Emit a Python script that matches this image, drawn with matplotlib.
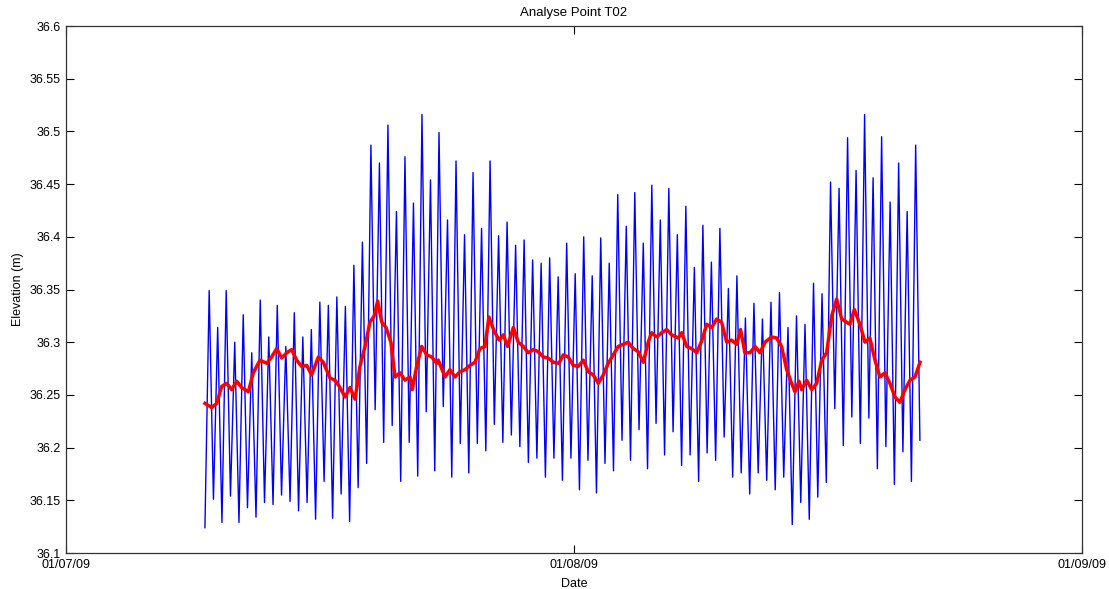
import numpy as np
import pandas as pd
import matplotlib
matplotlib.use("Agg")
from matplotlib import pyplot as plt
import matplotlib.dates as mdates

# Water level at successive high / low waters, starting with a low water
tide_start = "2009-07-09 11:30"
tide_step = "6h14min"
tide_levels = [
    36.124, 36.349, 36.151, 36.314, 36.129, 36.349, 36.154, 36.300, 36.129, 36.326,
    36.143, 36.290, 36.134, 36.340, 36.148, 36.305, 36.146, 36.335, 36.155, 36.296,
    36.149, 36.328, 36.140, 36.305, 36.148, 36.312, 36.132, 36.338,
    36.168, 36.335, 36.133, 36.343, 36.156, 36.334, 36.130, 36.373, 36.162, 36.395,
    36.185, 36.487, 36.236, 36.470, 36.205, 36.506, 36.221, 36.424, 36.168, 36.476,
    36.205, 36.432, 36.173, 36.516, 36.234, 36.454, 36.178, 36.499,
    36.239, 36.416, 36.172, 36.472, 36.204, 36.402, 36.176, 36.461, 36.204, 36.408,
    36.197, 36.472, 36.222, 36.401, 36.205, 36.414, 36.212, 36.392, 36.201, 36.397,
    36.186, 36.378, 36.190, 36.375, 36.172, 36.380, 36.190, 36.362,
    36.169, 36.394, 36.190, 36.365, 36.160, 36.400, 36.188, 36.363, 36.157, 36.399,
    36.185, 36.375, 36.178, 36.440, 36.207, 36.410, 36.188, 36.442, 36.217, 36.394,
    36.180, 36.449, 36.223, 36.416, 36.193, 36.446, 36.215, 36.402,
    36.183, 36.429, 36.193, 36.371, 36.168, 36.411, 36.195, 36.376, 36.188, 36.408,
    36.210, 36.351, 36.172, 36.363, 36.176, 36.323, 36.156, 36.337, 36.176, 36.322,
    36.169, 36.338, 36.160, 36.347, 36.172, 36.314, 36.127, 36.325,
    36.148, 36.317, 36.132, 36.356, 36.153, 36.346, 36.167, 36.452, 36.237, 36.446,
    36.202, 36.494, 36.229, 36.463, 36.204, 36.516, 36.228, 36.456, 36.180, 36.495,
    36.201, 36.433, 36.165, 36.470, 36.196, 36.424, 36.168, 36.487, 36.207,
]

# Filtered (mean) level: days after 1 July 2009 and elevation
mean_days = [
    8.48, 8.89, 9.20, 9.50, 9.81, 10.11, 10.42, 10.72, 11.13, 11.43, 11.84, 12.25,
    12.55, 12.86, 13.16, 13.47, 13.77, 14.08, 14.38, 14.69, 14.99, 15.40,
    15.70, 16.11, 16.42, 16.72, 17.03, 17.33, 17.64, 17.94, 18.25, 18.55, 18.81,
    19.02, 19.27, 19.53, 19.83, 20.08, 20.38, 20.69, 21.00, 21.13, 21.40, 21.71,
    22.01, 22.32, 22.62,
    22.72, 23.13, 23.43, 23.74, 24.04, 24.35, 24.65, 24.96, 25.26, 25.57, 25.81,
    26.14, 26.44, 26.69, 26.95, 27.30, 27.60, 27.91, 28.21, 28.52, 28.82, 29.13,
    29.43, 29.74, 30.08,
    30.35, 30.65, 30.96, 31.26, 31.57, 31.87, 32.18, 32.48, 32.79, 33.09, 33.40,
    33.70, 34.01, 34.31, 34.62, 34.92, 35.23, 35.53, 35.74, 36.05, 36.35, 36.66,
    36.96, 37.37,
    37.57, 37.88, 38.18, 38.49, 38.79, 39.10, 39.40, 39.71, 40.01, 40.32, 40.62,
    40.93, 41.17, 41.43, 41.74, 42.05, 42.35, 42.66, 43.06, 43.37, 43.67, 43.98,
    44.28, 44.49, 44.73,
    44.89, 45.20, 45.51, 45.81, 46.12, 46.42, 46.73, 47.03, 47.34, 47.64, 47.84,
    48.11, 48.45, 48.76, 49.06, 49.37, 49.67, 49.98, 50.28, 50.59, 50.89, 51.20,
    51.51, 51.81, 52.12,
]
mean_levels = [
    36.242, 36.238, 36.242, 36.258, 36.261, 36.255, 36.263, 36.257, 36.253, 36.271,
    36.283, 36.280, 36.286, 36.294, 36.285, 36.290, 36.293, 36.283, 36.277, 36.278,
    36.269, 36.286,
    36.281, 36.266, 36.264, 36.257, 36.248, 36.257, 36.246, 36.277, 36.296, 36.319,
    36.325, 36.339, 36.319, 36.314, 36.300, 36.267, 36.271, 36.264, 36.267, 36.255,
    36.277, 36.296, 36.288, 36.286, 36.280,
    36.283, 36.267, 36.274, 36.267, 36.272, 36.274, 36.278, 36.281, 36.294, 36.296,
    36.324, 36.310, 36.302, 36.307, 36.296, 36.314, 36.300, 36.296, 36.290, 36.293,
    36.291, 36.286, 36.285, 36.281, 36.280,
    36.288, 36.286, 36.278, 36.277, 36.283, 36.272, 36.269, 36.261, 36.269, 36.280,
    36.288, 36.296, 36.298, 36.300, 36.294, 36.291, 36.281, 36.300, 36.309, 36.305,
    36.309, 36.312, 36.307, 36.304,
    36.309, 36.296, 36.294, 36.290, 36.301, 36.317, 36.314, 36.322, 36.319, 36.300,
    36.302, 36.298, 36.312, 36.290, 36.290, 36.296, 36.290, 36.300, 36.305, 36.304,
    36.296, 36.274, 36.261, 36.253, 36.263,
    36.255, 36.264, 36.255, 36.261, 36.283, 36.290, 36.325, 36.341, 36.322, 36.319,
    36.317, 36.331, 36.317, 36.300, 36.304, 36.283, 36.267, 36.271, 36.261, 36.248,
    36.243, 36.255, 36.264, 36.267, 36.281,
]

date_ticks = ["2009-07-01", "2009-08-01", "2009-09-01"]
level_ticks = [36.1, 36.15, 36.2, 36.25, 36.3, 36.35, 36.4, 36.45, 36.5, 36.55, 36.6]

plt.rcParams['font.family'] = ['Liberation Sans', 'DejaVu Sans']
plt.rcParams['font.size'] = 9

tideTimes = pd.date_range(tide_start, periods=len(tide_levels), freq=tide_step)
meanTimes = pd.Timestamp("2009-07-01") + pd.to_timedelta(mean_days, unit="D")

fig = plt.figure(figsize=(11.09, 5.89), dpi=100)
ax = fig.add_axes([0.0595, 0.0611, 0.9161, 0.8947])

ax.plot(tideTimes, tide_levels, color=(0, 0, 1), linewidth=1.0)
ax.plot(meanTimes, mean_levels, color=(1, 0, 0), linewidth=2.5)

tickDates = pd.to_datetime(date_ticks)
ax.set_xlim(tickDates[0], tickDates[-1])
ax.set_xticks(tickDates)
ax.xaxis.set_major_formatter(mdates.DateFormatter("%d/%m/%y"))
ax.set_ylim(36.1, 36.6)
ax.set_yticks(level_ticks)
ax.set_yticklabels(["%g" % v for v in level_ticks])

ax.tick_params(direction="in", length=6, width=0.8, top=True, right=True,
               labelsize=9, pad=4)
for side in ax.spines.values():
    side.set_linewidth(0.9)
    side.set_color("#333333")

ax.set_title("Analyse Point T02", fontsize=9.5, pad=7)
ax.set_xlabel("Date", fontsize=9, labelpad=5)
ax.set_ylabel("Elevation (m)", fontsize=9, labelpad=4)

fig.savefig("out.png", dpi=100)
